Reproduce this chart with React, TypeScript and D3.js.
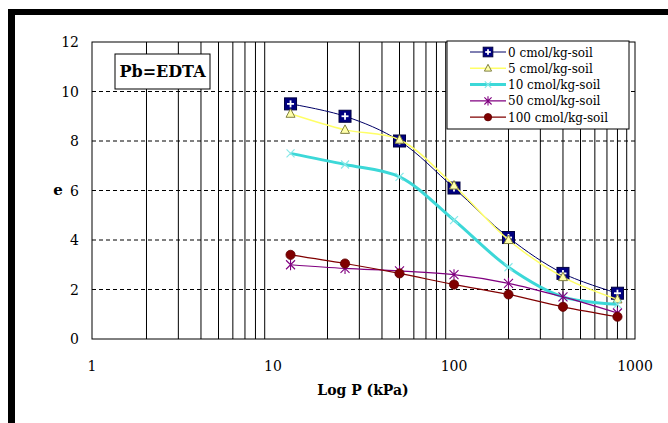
import React from 'react';
import * as d3 from 'd3';

// pressure steps (kPa) and void ratio per Pb-EDTA dose
const pressures = [12.5, 25, 50, 100, 200, 400, 800];
const dose0 = [9.5, 9.0, 8.0, 6.1, 4.1, 2.65, 1.85];
const dose5 = [9.1, 8.45, 8.05, 6.2, 4.0, 2.5, 1.6];
const dose10 = [7.5, 7.05, 6.55, 4.8, 2.9, 1.7, 1.4];
const dose50 = [3.0, 2.85, 2.75, 2.6, 2.25, 1.7, 1.05];
const dose100 = [3.4, 3.05, 2.65, 2.2, 1.8, 1.3, 0.9];

const seriesNames = ['0 cmol/kg-soil', '5 cmol/kg-soil', '10 cmol/kg-soil', '50 cmol/kg-soil', '100 cmol/kg-soil'];
const xTicks = [1, 10, 100, 1000];
const yTicks = [0, 2, 4, 6, 8, 10, 12];

const W = 668;
const H = 423;
const plot = { left: 92, right: 635, top: 42, bottom: 339 };
const serif = { fontFamily: "'DejaVu Serif', serif" };

const x = d3.scaleLog().domain([1, 1000]).range([plot.left, plot.right]);
const y = d3.scaleLinear().domain([0, 12]).range([plot.bottom, plot.top]);

const styles = [
  { stroke: '#000066', width: 1, marker: 'square' },
  { stroke: '#ffff66', width: 1.5, marker: 'triangle' },
  { stroke: '#3cd8d8', width: 3, marker: 'cross' },
  { stroke: '#800080', width: 1.2, marker: 'star' },
  { stroke: '#800000', width: 1.2, marker: 'circle' },
];

const Marker = ({ kind, cx, cy, s = 1 }: { kind: string; cx: number; cy: number; s?: number }) => {
  if (kind === 'square') {
    return (
      <g>
        <rect x={cx - 6 * s} y={cy - 6 * s} width={12 * s} height={12 * s} fill="#000080" stroke="#000040" strokeWidth={1} />
        <line x1={cx - 3.5 * s} x2={cx + 3.5 * s} y1={cy} y2={cy} stroke="#fff" strokeWidth={1.8} />
        <line x1={cx} x2={cx} y1={cy - 3.5 * s} y2={cy + 3.5 * s} stroke="#fff" strokeWidth={1.8} />
      </g>
    );
  }
  if (kind === 'triangle') {
    return (
      <path d={`M${cx},${cy - 5 * s}L${cx + 4.5 * s},${cy + 3.5 * s}L${cx - 4.5 * s},${cy + 3.5 * s}Z`} fill="#ffffaa" stroke="#808040" strokeWidth={1} />
    );
  }
  if (kind === 'cross') {
    const r = 4 * s;
    return (
      <path d={`M${cx - r},${cy - r}L${cx + r},${cy + r}M${cx - r},${cy + r}L${cx + r},${cy - r}`} stroke="#88e8e8" strokeWidth={1.2} fill="none" />
    );
  }
  if (kind === 'star') {
    const r = 4.5 * s;
    return (
      <path d={`M${cx - r},${cy - r}L${cx + r},${cy + r}M${cx - r},${cy + r}L${cx + r},${cy - r}M${cx},${cy - r - 1}L${cx},${cy + r + 1}`} stroke="#800080" strokeWidth={1.1} fill="none" />
    );
  }
  return <circle cx={cx} cy={cy} r={4.6 * s} fill="#800000" stroke="#600000" strokeWidth={0.8} />;
};

const App = () => {
  const data = [dose0, dose5, dose10, dose50, dose100];
  const line = d3
    .line<number>()
    .x((_, i) => x(pressures[i]))
    .y((d) => y(d))
    .curve(d3.curveCatmullRom.alpha(0.5));

  const minor: number[] = [];
  for (let dec = 1; dec < 1000; dec *= 10) {
    for (let k = 2; k <= 9; k++) minor.push(dec * k);
  }

  const legend = { x: 447, y: 41, w: 182, h: 88 };

  return (
    <svg width={W} height={H} style={{ position: 'absolute', left: 0, top: 0, background: '#fff' }}>
      <rect x={0} y={0} width={W} height={H} fill="#fff" />
      {/* frame bars */}
      <rect x={8} y={9} width={W - 8} height={6} fill="#000" />
      <rect x={8} y={9} width={7} height={H - 9} fill="#000" />

      {/* grid */}
      {minor.map((v) => (
        <line key={'v' + v} x1={x(v)} x2={x(v)} y1={plot.top} y2={plot.bottom} stroke="#000" strokeWidth={1} />
      ))}
      {yTicks.filter((t) => t > 0 && t < 12).map((t) => (
        <line key={'h' + t} x1={plot.left} x2={plot.right} y1={y(t)} y2={y(t)} stroke="#000" strokeWidth={1} strokeDasharray="4,3" />
      ))}
      <rect x={plot.left} y={plot.top} width={plot.right - plot.left} height={plot.bottom - plot.top} fill="none" stroke="#000" strokeWidth={1} />

      {/* tick labels */}
      {yTicks.map((t) => (
        <text key={'yt' + t} x={79} y={y(t) + 5} textAnchor="end" style={serif} fontSize={14} fill="#000">
          {t}
        </text>
      ))}
      {xTicks.map((t) => (
        <text key={'xt' + t} x={x(t)} y={371} textAnchor="middle" style={serif} fontSize={14} fill="#000">
          {t}
        </text>
      ))}
      <text x={363} y={395} textAnchor="middle" style={serif} fontSize={14} fontWeight="bold" fill="#000">
        Log P (kPa)
      </text>
      <text x={58} y={195} textAnchor="middle" style={serif} fontSize={15} fontWeight="bold" fill="#000">
        e
      </text>

      {/* series */}
      {data.map((vals, si) => (
        <g key={'s' + si}>
          <path d={line(vals) || ''} fill="none" stroke={styles[si].stroke} strokeWidth={styles[si].width} />
          {vals.map((v, i) => (
            <Marker key={i} kind={styles[si].marker} cx={x(pressures[i])} cy={y(v)} />
          ))}
        </g>
      ))}

      {/* Pb=EDTA label */}
      <rect x={115} y={54} width={95} height={35} fill="#fff" stroke="#000" strokeWidth={1} />
      <text x={162.5} y={77} textAnchor="middle" style={serif} fontSize={16} fontWeight="bold" fill="#000">
        Pb=EDTA
      </text>

      {/* legend */}
      <rect x={legend.x} y={legend.y} width={legend.w} height={legend.h} fill="#fff" stroke="#000" strokeWidth={1} />
      {seriesNames.map((name, i) => {
        const ly = 52 + i * 16.3;
        return (
          <g key={'lg' + i}>
            <line x1={470} x2={506} y1={ly} y2={ly} stroke={styles[i].stroke} strokeWidth={styles[i].width} />
            <Marker kind={styles[i].marker} cx={488} cy={ly} s={0.8} />
            <text x={508} y={ly + 4.5} style={serif} fontSize={12} fill="#000">
              {name}
            </text>
          </g>
        );
      })}
    </svg>
  );
};

export default App;
